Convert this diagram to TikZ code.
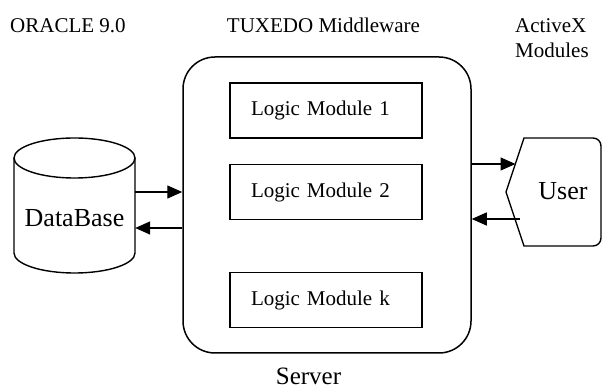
\documentclass[tikz,border=0pt]{standalone}
\usepackage{fontspec}
\setmainfont{Liberation Serif}
\usetikzlibrary{arrows.meta}

\tikzset{
	module/.style={draw, line width=1.3pt, minimum width=192pt, minimum height=55pt,
		text width=150pt, inner xsep=21pt, align=left, font=\fontsize{21}{25}\selectfont},
	arr/.style={line width=1.4pt, -{Triangle[length=15pt,width=13pt]}},
	lbl/.style={anchor=base, inner sep=0pt, font=\fontsize{21}{25}\selectfont},
	big/.style={anchor=base, inner sep=0pt, font=\fontsize{26}{30}\selectfont}
}

\begin{document}
\begin{tikzpicture}[x=1pt,y=1pt]
	%\draw[help lines] (0,0) grid[step=50] (602,390);
	\useasboundingbox (0,0) rectangle (602,390);

	\path
	coordinate (dbtop) at (74.5,232)
	coordinate (dbbot) at (74.5,137)
	coordinate (uin) at (515.5,226)
	coordinate (uout) at (520,171)
	;

	% server with its modules
	\node[draw, line width=1.5pt, rounded corners=32pt, minimum width=288pt,
		minimum height=296pt] (server) at (327,185) {};
	\node[module] (mod1) at (326,279.5) {Logic Module 1};
	\node[module] (mod2) at (326,198) {Logic Module 2};
	\node[module] (modk) at (326,90) {Logic Module k};

	% database cylinder
	\node[minimum width=121pt, minimum height=135pt, inner sep=0pt] (db) at (74.5,184.5) {};
	\draw[line width=1.4pt] (dbtop) ellipse (60.5 and 20);
	\draw[line width=1.4pt] ([xshift=-60.5pt]dbtop) -- ([xshift=-60.5pt]dbbot)
		arc (180:360:60.5 and 20) -- ([xshift=60.5pt]dbtop);
	\node[big] (dblabel) at (74.5,163) {DataBase};

	% user
	\draw[line width=1.4pt] (506,198) -- (524,144) -- (593,144)
		arc (-90:0:8) -- (601,244) arc (0:90:8) -- (524,252) -- cycle;
	\node[big] (user) at (563,190) {User};

	% connectors
	\draw[arr] (db.east |- 0,198) -- (server.west |- 0,198);
	\draw[arr] (server.west |- 0,162) -- (db.east |- 0,162);
	\draw[arr] (server.east |- uin) -- (uin);
	\draw[arr] (uout) -- (server.east |- uout);

	% labels
	\node[lbl, anchor=base west] (oracle) at (10,357) {ORACLE 9.0};
	\node[lbl] (tuxedo) at (323.5,357) {TUXEDO Middleware};
	\node[lbl, anchor=base west] (activex) at (515,357) {ActiveX};
	\node[lbl, anchor=base west] (modules) at (515,332) {Modules};
	\node[lbl, font=\fontsize{25}{30}\selectfont] (srv) at (308.5,5) {Server};

\end{tikzpicture}
\end{document}
